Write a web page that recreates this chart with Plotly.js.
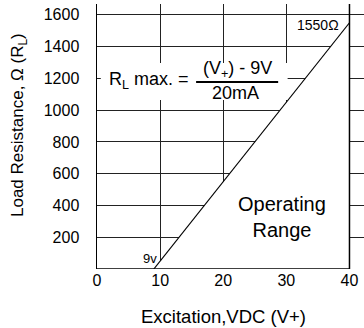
<!DOCTYPE html>
<html><head><meta charset="utf-8">
<script src="https://cdn.plot.ly/plotly-3.0.1.min.js"></script>
<style>html,body{margin:0;padding:0;background:#fff}#c{width:364px;height:328px}</style>
</head><body><div id="c"></div>
<script>
// data
const limitX = [9, 40];          // excitation, VDC
const limitY = [0, 1550];        // max load resistance, ohms
const regionX = [9, 40, 40, 9];  // operating range polygon
const regionY = [0, 1550, 0, 0];
const xTickVals = [0, 10, 20, 30, 40];
const yTickVals = [200, 400, 600, 800, 1000, 1200, 1400, 1600];

const F = 'Liberation Sans, Arial, Helvetica, sans-serif';

const traces = [
  {x: regionX, y: regionY, mode: 'lines', fill: 'toself', fillcolor: '#ffffff',
   line: {width: 0, color: 'rgba(0,0,0,0)'}, hoverinfo: 'skip', showlegend: false},
  {x: limitX, y: limitY, mode: 'lines', line: {color: '#000', width: 1.2}, showlegend: false}
];

const layout = {
  width: 364, height: 328,
  margin: {l: 97, r: 0, t: 4, b: 59},
  paper_bgcolor: '#fff', plot_bgcolor: '#fff',
  font: {family: F, color: '#000', size: 16},
  xaxis: {range: [0, 42.3], tickvals: xTickVals, ticktext: xTickVals.map(String),
          showgrid: true, gridcolor: '#222', gridwidth: 1, zeroline: false, showline: false,
          ticks: '', tickfont: {size: 16, family: F, color: '#000'}, fixedrange: true},
  yaxis: {range: [0, 1668], tickvals: yTickVals, ticktext: yTickVals.map(String),
          showgrid: true, gridcolor: '#222', gridwidth: 1, zeroline: false,
          showline: true, linecolor: '#000', linewidth: 1.5,
          ticks: '', ticklabelstandoff: 13, tickfont: {size: 16, family: F, color: '#000'},
          fixedrange: true},
  shapes: [
    {type: 'rect', layer: 'between', xref: 'x', yref: 'y', x0: 0.6, x1: 30.2, y0: 1064, y1: 1296,
     fillcolor: '#fff', line: {width: 0}},
    {type: 'line', layer: 'above', xref: 'x', yref: 'paper', x0: 40, x1: 40, y0: 0, y1: 1,
     line: {color: '#000', width: 1.5}},
    {type: 'line', layer: 'above', xref: 'x', yref: 'y', x0: 0, x1: 40, y0: 0, y1: 0,
     line: {color: '#000', width: 1.5}},
    {type: 'line', layer: 'above', xref: 'x', yref: 'y', x0: 15.7, x1: 28.7, y0: 1177, y1: 1177,
     line: {color: '#000', width: 2}}
  ],
  annotations: [
    {x: 35, y: 1536, xref: 'x', yref: 'y', text: '1550Ω', showarrow: false, font: {size: 14, family: F}},
    {x: 8.4, y: 65, xref: 'x', yref: 'y', text: '9v', showarrow: false, font: {size: 13, family: F}},
    {x: 29.3, y: 326, xref: 'x', yref: 'y', text: 'Operating<br>Range', showarrow: false, font: {size: 20, family: F}},
    {x: 8.2, y: 1184, xref: 'x', yref: 'y', text: 'R<sub>L</sub> max. =', showarrow: false, font: {size: 18, family: F}},
    {x: 22.3, y: 1253, xref: 'x', yref: 'y', text: '(V<sub>+</sub>) - 9V', showarrow: false, font: {size: 18, family: F}},
    {x: 22.0, y: 1109, xref: 'x', yref: 'y', text: '20mA', showarrow: false, font: {size: 18, family: F}},
    {x: (223 - 97) / 267, y: (269 - 316) / 265, xref: 'paper', yref: 'paper', yanchor: 'middle', xanchor: 'center',
     text: 'Excitation,VDC (V+)', showarrow: false, font: {size: 18.5, family: F}},
    {x: (19 - 97) / 267, y: (269 - 125) / 265, xref: 'paper', yref: 'paper', yanchor: 'middle', xanchor: 'center',
     textangle: -90, text: 'Load Resistance, Ω (R<sub>L</sub>)', showarrow: false, font: {size: 17, family: F}}
  ]
};

Plotly.newPlot('c', traces, layout, {displayModeBar: false, staticPlot: true});
</script></body></html>
